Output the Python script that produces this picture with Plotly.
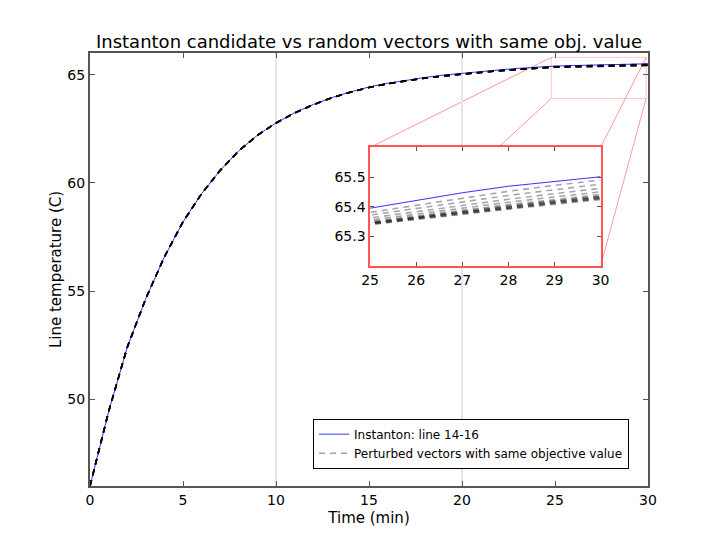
import plotly.graph_objects as go

# minutes 0..30
minutes = list(range(31))

# instanton candidate, line 14-16
instanton = [46.0, 49.43, 52.4, 54.66, 56.58, 58.2, 59.5, 60.58, 61.48, 62.2,
             62.77, 63.24, 63.62, 63.94, 64.2, 64.43, 64.6, 64.74, 64.87, 64.98,
             65.07, 65.15, 65.22, 65.29, 65.35, 65.395, 65.422, 65.447, 65.469,
             65.486, 65.501]

# perturbed vectors: they coincide up to minute 24, then spread (minutes 25..30)
perturbed_head = [46.0, 49.43, 52.4, 54.66, 56.58, 58.2, 59.5, 60.58, 61.48, 62.2,
                  62.77, 63.23, 63.61, 63.93, 64.19, 64.41, 64.58, 64.72, 64.84,
                  64.94, 65.03, 65.11, 65.18, 65.24, 65.30]
perturbed_tails = [
    [65.381, 65.405, 65.430, 65.452, 65.472, 65.490],
    [65.372, 65.394, 65.417, 65.438, 65.457, 65.476],
    [65.362, 65.383, 65.405, 65.425, 65.444, 65.462],
    [65.355, 65.375, 65.396, 65.415, 65.433, 65.450],
    [65.350, 65.369, 65.389, 65.407, 65.424, 65.441],
    [65.347, 65.366, 65.385, 65.403, 65.420, 65.436],
    [65.345, 65.364, 65.383, 65.400, 65.417, 65.433],
    [65.343, 65.362, 65.380, 65.397, 65.414, 65.430],
    [65.341, 65.359, 65.377, 65.394, 65.411, 65.427],
    [65.339, 65.357, 65.375, 65.392, 65.408, 65.424],
    [65.346, 65.364, 65.383, 65.401, 65.418, 65.434],
    [65.343, 65.361, 65.379, 65.396, 65.413, 65.429],
]

FONT = "DejaVu Sans"
AXIS_GREY = "#555555"
DASH_COL = "rgba(0,0,0,0.35)"

fig = go.Figure()

for xa, ya, show in (("x", "y", True), ("x2", "y2", False)):
    fig.add_trace(go.Scatter(
        x=minutes, y=instanton, mode="lines", xaxis=xa, yaxis=ya,
        name="Instanton: line 14-16", showlegend=show,
        line=dict(color="#3333ff", width=1)))
    for i, tail in enumerate(perturbed_tails):
        fig.add_trace(go.Scatter(
            x=minutes, y=perturbed_head + tail, mode="lines", xaxis=xa, yaxis=ya,
            name="Perturbed vectors with same objective value",
            legendgroup="pert", showlegend=(show and i == 0),
            line=dict(color=DASH_COL, width=1.6, dash="6px,5px")))

# zoom box in the main axes and connector lines to the inset (paper coords)
box = dict(x0=24.8, x1=29.9, y0=63.9, y1=65.8)
ins = dict(x0=0.502, x1=0.915, y0=0.508, y1=0.782)
def px(v):
    return v / 30.0
def py(v):
    return (v - 46.0) / 20.0

fig.add_shape(type="rect", xref="x", yref="y", x0=box["x0"], x1=box["x1"],
              y0=box["y0"], y1=box["y1"], line=dict(color="rgba(255,0,0,0.22)", width=1),
              layer="below")
conn = dict(color="rgba(255,0,0,0.4)", width=1)
for bx, ix in ((box["x0"], ins["x0"]), (box["x1"], ins["x1"])):
    for by, iy in ((box["y0"], ins["y0"]), (box["y1"], ins["y1"])):
        fig.add_shape(type="line", xref="paper", yref="paper",
                      x0=px(bx), y0=py(by), x1=ix, y1=iy, line=conn, layer="below")

tick_font = dict(family=FONT, size=14, color="black")
axis_common = dict(ticks="inside", tickcolor=AXIS_GREY, tickwidth=1, showgrid=False,
                   zeroline=False, tickfont=tick_font, automargin=False, mirror="ticks",
                   showline=True)
# the page body adds an 8px offset, so the figure is 8px smaller than the window
fig.update_layout(
    template="none",
    width=712, height=532,
    margin=dict(l=82, r=72, t=45, b=54, autoexpand=False),
    paper_bgcolor="white", plot_bgcolor="white",
    font=dict(family=FONT, color="black"),
    title=dict(text="Instanton candidate vs random vectors with same obj. value",
               x=0.5, xref="paper", xanchor="center", y=1, yref="paper",
               yanchor="bottom", pad=dict(b=5),
               font=dict(family=FONT, size=18, color="black")),
    xaxis=dict(axis_common, domain=[0, 1], range=[0, 30],
               tickvals=[0, 5, 10, 15, 20, 25, 30], ticklen=5,
               linecolor=AXIS_GREY, linewidth=2,
               title=dict(text="Time (min)", font=dict(family=FONT, size=15), standoff=6),
               minor=dict(tickvals=[10, 20], showgrid=True, gridcolor="#e6e6e6",
                          gridwidth=2, ticks="")),
    yaxis=dict(axis_common, domain=[0, 1], range=[46, 66], tickvals=[50, 55, 60, 65],
               ticklen=5, linecolor=AXIS_GREY, linewidth=2,
               title=dict(text="Line temperature (C)", font=dict(family=FONT, size=15),
                          standoff=2)),
    xaxis2=dict(axis_common, domain=[ins["x0"], ins["x1"]], anchor="y2", range=[25, 30],
                tickvals=[25, 26, 27, 28, 29, 30], ticklen=4,
                linecolor="#ff5555", linewidth=1.5),
    yaxis2=dict(axis_common, domain=[ins["y0"], ins["y1"]], anchor="x2",
                range=[65.2, 65.6], tickvals=[65.3, 65.4, 65.5], ticklen=4,
                linecolor="#ff5555", linewidth=1.5),
    legend=dict(x=0.966, y=0.04, xanchor="right", yanchor="bottom",
                bgcolor="white", bordercolor="black", borderwidth=1,
                font=dict(family=FONT, size=12), itemwidth=30,
                tracegroupgap=0),
    showlegend=True,
)

fig.write_html("out.html")
